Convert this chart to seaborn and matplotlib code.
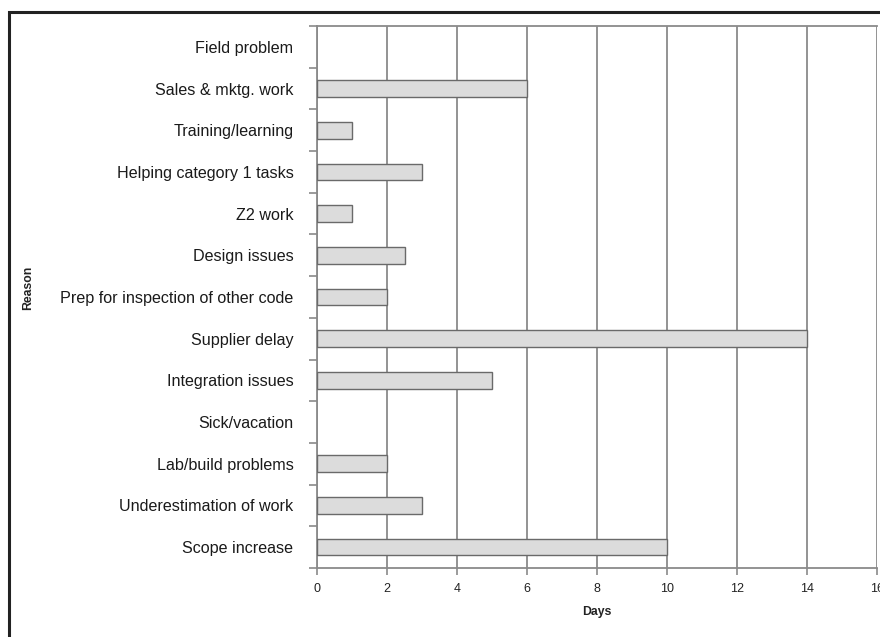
import matplotlib
matplotlib.use("Agg")
import matplotlib.pyplot as plt
import seaborn as sns
import pandas as pd
import numpy as np
from matplotlib.patches import Rectangle
from matplotlib.ticker import FixedLocator

reasons = [
    "Field problem",
    "Sales & mktg. work",
    "Training/learning",
    "Helping category 1 tasks",
    "Z2 work",
    "Design issues",
    "Prep for inspection of other code",
    "Supplier delay",
    "Integration issues",
    "Sick/vacation",
    "Lab/build problems",
    "Underestimation of work",
    "Scope increase",
]
days = [0, 6, 1, 3, 1, 2.5, 2, 14, 5, 0, 2, 3, 10]
x_ticks = [0, 2, 4, 6, 8, 10, 12, 14, 16]

sns.set_style("white")
plt.rcParams["font.family"] = ["Liberation Sans", "DejaVu Sans"]

df = pd.DataFrame({"Reason": reasons, "Days": days})

fig = plt.figure(figsize=(8.8, 6.37), dpi=100)
ax = fig.add_axes([317 / 880, 1 - 568 / 637, 560 / 880, (568 - 26) / 637])

sns.barplot(data=df, x="Days", y="Reason", orient="h", order=reasons,
            color="#dcdcdc", edgecolor="#6a6a6a", linewidth=1.0,
            width=0.4, saturation=1, ax=ax, zorder=3)
for p in ax.patches:
    if p.get_width() == 0:
        p.set_linewidth(0)

ax.set_xlim(0, 16)
ax.set_ylim(len(reasons) - 0.5, -0.5)
ax.set_xticks(x_ticks)
ax.set_xticklabels([str(t) for t in x_ticks], fontsize=9, color="#222222")
ax.grid(axis="x", color="#8a8a8a", linewidth=1.3, zorder=0)
ax.grid(axis="y", visible=False)
ax.set_axisbelow(True)

ax.tick_params(axis="y", which="major", length=0, pad=17, labelsize=11.6, labelcolor="#1a1a1a")
ax.yaxis.set_minor_locator(FixedLocator(np.arange(-0.5, len(reasons), 1.0)))
ax.tick_params(axis="y", which="minor", length=6, width=1.2, color="#8a8a8a", direction="out", left=True)
ax.tick_params(axis="x", which="major", length=5, width=1.2, color="#8a8a8a", direction="out", bottom=True, pad=6)

for side in ["left", "bottom", "top"]:
    ax.spines[side].set_visible(True)
    ax.spines[side].set_color("#8a8a8a")
    ax.spines[side].set_linewidth(1.3)
ax.spines["right"].set_visible(False)

ax.set_xlabel("Days", fontsize=8.8, fontweight="bold", color="#222222", labelpad=8)
ax.set_ylabel("")
fig.text(28 / 880, 1 - 288 / 637, "Reason", rotation=90, fontsize=8.8, fontweight="bold",
         color="#222222", ha="center", va="center")

frame = Rectangle((9 / 880, -0.1), 1.2, 1 - 12 / 637 + 0.1, transform=fig.transFigure,
                  fill=False, edgecolor="#222222", linewidth=2.2, clip_on=False)
fig.patches.append(frame)

fig.savefig("out.png", dpi=100)
